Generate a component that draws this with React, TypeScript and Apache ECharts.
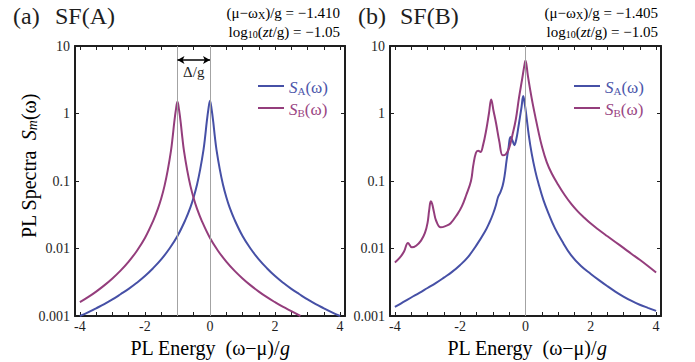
import React, { useEffect, useRef } from 'react';
import * as echarts from 'echarts';

const BLUE = '#4650a6';
const MAGENTA = '#943d7c';
const BLUE_T = '#4c56aa';
const MAGENTA_T = '#9a4683';
const INK = '#1e1e1e';
const FONT = 'Liberation Serif';

// axis ticks / labels
const xTicks = [-4, -3.5, -3, -2.5, -2, -1.5, -1, -0.5, 0, 0.5, 1, 1.5, 2, 2.5, 3, 3.5, 4];
const xLabels = [-4, -2, 0, 2, 4];

// Panel (a) SF(A)
const aSAx = [-4, -3.75, -3.5, -3.25, -3, -2.75, -2.5, -2.25, -2, -1.75, -1.5, -1.25, -1, -0.75, -0.6, -0.5, -0.4, -0.3, -0.2, -0.15, -0.1, -0.05, 0,
  0.05, 0.1, 0.15, 0.2, 0.3, 0.4, 0.5, 0.6, 0.75, 1, 1.25, 1.5, 1.75, 2, 2.25, 2.5, 2.75, 3, 3.25, 3.5, 3.75, 4];
const aSAy = [0.001, 0.00113, 0.0013, 0.0015, 0.00176, 0.0021, 0.00252, 0.0031, 0.0039, 0.0051, 0.0069, 0.0099, 0.0153, 0.027, 0.041, 0.058, 0.088, 0.15, 0.29, 0.45, 0.75, 1.15, 1.55,
  1.15, 0.75, 0.45, 0.29, 0.15, 0.088, 0.058, 0.041, 0.027, 0.0153, 0.0099, 0.0069, 0.0051, 0.0039, 0.0031, 0.00252, 0.0021, 0.00176, 0.0015, 0.0013, 0.00113, 0.001];
const aSBx = [-4, -3.75, -3.5, -3.25, -3, -2.75, -2.5, -2.25, -2, -1.75, -1.6, -1.5, -1.4, -1.3, -1.2, -1.15, -1.1, -1.05, -1,
  -0.95, -0.9, -0.85, -0.8, -0.7, -0.6, -0.5, -0.4, -0.25, 0, 0.25, 0.5, 0.75, 1, 1.25, 1.5, 1.75, 2, 2.25, 2.5, 2.78];
const aSBy = [0.0016, 0.0019, 0.0023, 0.00284, 0.0036, 0.0047, 0.0064, 0.0092, 0.0143, 0.0255, 0.039, 0.055, 0.084, 0.144, 0.28, 0.44, 0.73, 1.12, 1.5,
  1.12, 0.73, 0.44, 0.28, 0.144, 0.084, 0.055, 0.039, 0.0255, 0.0143, 0.0092, 0.0064, 0.0047, 0.0036, 0.00284, 0.0023, 0.0019, 0.0016, 0.00136, 0.00118, 0.001];
const aMarkers = [-1, 0];
const aArrow = { from: -1, to: 0, level: 6.2, text: 'Δ/g' };

// Panel (b) SF(B)
const bSAx = [-4, -3.75, -3.5, -3.25, -3, -2.75, -2.5, -2.25, -2, -1.75, -1.5, -1.25, -1.1, -0.99, -0.9, -0.84, -0.77, -0.7, -0.64, -0.58,
  -0.52, -0.46, -0.4, -0.34, -0.28, -0.22, -0.12, -0.07, -0.02, 0.03, 0.1, 0.19, 0.3, 0.4, 0.55, 0.71, 0.9, 1.11, 1.4, 1.7,
  2.0, 2.25, 2.5, 2.75, 3.0, 3.25, 3.5, 3.75, 4];
const bSAy = [0.00136, 0.0016, 0.00188, 0.0022, 0.0026, 0.00307, 0.0037, 0.0045, 0.0057, 0.0076, 0.0112, 0.0175, 0.0245, 0.033, 0.045, 0.058, 0.068, 0.085, 0.12, 0.2,
  0.31, 0.45, 0.4, 0.34, 0.42, 0.62, 1.26, 1.81, 1.35, 0.9, 0.48, 0.254, 0.14, 0.091, 0.052, 0.0326, 0.02, 0.0131, 0.0079, 0.0055,
  0.0042, 0.0034, 0.00278, 0.0023, 0.00194, 0.00167, 0.00147, 0.00132, 0.00119];
const bSBx = [-4, -3.85, -3.72, -3.6, -3.48, -3.35, -3.2, -3.08, -3.0, -2.95, -2.9, -2.86, -2.8, -2.74, -2.6, -2.45, -2.3, -2.08, -1.95, -1.82,
  -1.67, -1.6, -1.52, -1.45, -1.38, -1.3, -1.2, -1.12, -1.05, -0.98, -0.9, -0.8, -0.7, -0.6, -0.5, -0.4, -0.3, -0.2, -0.1, -0.03,
  0, 0.07, 0.14, 0.22, 0.3, 0.4, 0.5, 0.65, 0.8, 1.0, 1.2, 1.4, 1.6, 1.8, 2.0, 2.25, 2.5, 2.75, 3.0, 3.25, 3.5, 3.75, 4];
const bSBy = [0.0062, 0.0073, 0.009, 0.0121, 0.0104, 0.011, 0.0131, 0.017, 0.024, 0.037, 0.05, 0.046, 0.034, 0.026, 0.0206, 0.0215, 0.0235, 0.0326, 0.042, 0.061,
  0.1, 0.17, 0.26, 0.28, 0.27, 0.34, 0.58, 1.0, 1.61, 1.1, 0.71, 0.38, 0.24, 0.25, 0.31, 0.48, 0.8, 1.7, 3.3, 5.3,
  6.1, 3.7, 2.3, 1.4, 0.9, 0.53, 0.33, 0.19, 0.13, 0.088, 0.062, 0.0458, 0.0355, 0.0286, 0.0234, 0.0188, 0.0153, 0.0125, 0.0102, 0.0083, 0.0068, 0.0055, 0.0044];
const bMarkers = [0];

const annA = ['(μ−ω', 'X', ')/g = −1.410'];
const annB = ['(μ−ω', 'X', ')/g = −1.405'];
const logLine = '−1.05';

const zip = (xs: number[], ys: number[]) => xs.map((x, i) => [x, ys[i]]);

const frameLine = { show: true, onZero: false, lineStyle: { color: INK, width: 2 } };
const tickStyle = { show: true, inside: true, length: 4, lineStyle: { color: INK, width: 1 } };

function xAx(gridIndex: number, position: string, showLabel: boolean) {
  return {
    type: 'value', gridIndex, position, min: -4.15, max: 4.15,
    axisLine: frameLine,
    axisTick: { ...tickStyle, customValues: xTicks },
    axisLabel: {
      show: showLabel, customValues: xLabels, margin: 3,
      fontSize: 14, fontFamily: FONT, color: INK,
      formatter: (v: number) => String(v),
    },
    splitLine: { show: false },
  };
}
function yAx(gridIndex: number, position: string, showLabel: boolean) {
  return {
    type: 'log', logBase: 10, gridIndex, position, min: 0.001, max: 10, splitNumber: 4,
    axisLine: frameLine,
    axisTick: { ...tickStyle },
    minorTick: { show: false },
    axisLabel: {
      show: showLabel, margin: 5, fontSize: 14, fontFamily: FONT, color: INK,
      formatter: (v: number) => String(+Number(v).toPrecision(2)),
    },
    splitLine: { show: false },
  };
}

function lineSeries(name: string, data: number[][], color: string, xi: number, yi: number, extra: any = {}) {
  return {
    type: 'line', name, data, xAxisIndex: xi, yAxisIndex: yi,
    symbol: 'none', showSymbol: false, smooth: 0.4, clip: true,
    lineStyle: { color, width: 2 }, itemStyle: { color },
    z: 3, ...extra,
  };
}

function vLines(values: number[]) {
  return {
    silent: true, symbol: 'none', label: { show: false },
    lineStyle: { color: '#a3a3a3', width: 1, type: 'solid' },
    data: values.map((v) => ({ xAxis: v })),
  };
}

const legendRich = {
  a: { color: BLUE_T, fontSize: 17, fontFamily: FONT, fontStyle: 'italic', lineHeight: 20, verticalAlign: 'bottom' },
  as: { color: BLUE_T, fontSize: 11, fontFamily: FONT, lineHeight: 10, verticalAlign: 'bottom' },
  ap: { color: BLUE_T, fontSize: 17, fontFamily: FONT, lineHeight: 20, verticalAlign: 'bottom' },
  b: { color: MAGENTA_T, fontSize: 17, fontFamily: FONT, fontStyle: 'italic', lineHeight: 20, verticalAlign: 'bottom' },
  bs: { color: MAGENTA_T, fontSize: 11, fontFamily: FONT, lineHeight: 10, verticalAlign: 'bottom' },
  bp: { color: MAGENTA_T, fontSize: 17, fontFamily: FONT, lineHeight: 20, verticalAlign: 'bottom' },
};
const legendFmt = (name: string) => (name === 'SA' ? '{a|S}{as|A}{ap|(ω)}' : '{b|S}{bs|B}{bp|(ω)}');
function legendAt(left: number) {
  return {
    left, top: 73, orient: 'vertical', itemWidth: 26, itemHeight: 20, itemGap: 4, itemStyle: { opacity: 0 },
    selectedMode: false, data: ['SA', 'SB'], formatter: legendFmt,
    textStyle: { fontFamily: FONT, rich: legendRich },
  };
}

const txt = { fontFamily: FONT, fill: INK };
function annotation(right: number, parts: string[]) {
  return [
    {
      type: 'text', x: right, y: 11,
      style: {
        text: `{n|${parts[0]}}{s|${parts[1]}}{n|${parts[2]}}`, align: 'right', verticalAlign: 'middle',
        fontFamily: FONT,
        rich: {
          n: { fontSize: 15, fontFamily: FONT, color: INK, lineHeight: 18, verticalAlign: 'bottom' },
          s: { fontSize: 10, fontFamily: FONT, color: INK, lineHeight: 9, verticalAlign: 'bottom' },
        },
      },
    },
    {
      type: 'text', x: right, y: 30,
      style: {
        text: `{n|log}{s|10}{n|(}{i|zt}{n|/g) = ${logLine}}`, align: 'right', verticalAlign: 'middle',
        fontFamily: FONT,
        rich: {
          n: { fontSize: 15, fontFamily: FONT, color: INK, lineHeight: 18, verticalAlign: 'bottom' },
          i: { fontSize: 15, fontFamily: FONT, fontStyle: 'italic', color: INK, lineHeight: 18, verticalAlign: 'bottom' },
          s: { fontSize: 10, fontFamily: FONT, color: INK, lineHeight: 9, verticalAlign: 'bottom' },
        },
      },
    },
  ];
}
function xTitle(cx: number) {
  return {
    type: 'text', x: cx, y: 348,
    style: {
      text: '{n|PL Energy  (ω−μ)/}{i|g}', align: 'center', verticalAlign: 'middle', fontFamily: FONT,
      rich: {
        n: { fontSize: 20, fontFamily: FONT, color: INK },
        i: { fontSize: 20, fontFamily: FONT, fontStyle: 'italic', color: INK },
      },
    },
  };
}

export default function App() {
  const ref = useRef<HTMLDivElement>(null);
  useEffect(() => {
    if (!ref.current) return;
    const chart = echarts.init(ref.current, null, { renderer: 'svg' });
    const option: any = {
      animation: false,
      backgroundColor: '#ffffff',
      textStyle: { fontFamily: FONT },
      grid: [
        { left: 75, top: 46, width: 270, height: 270, outerBoundsMode: 'none' },
        { left: 390, top: 46, width: 271, height: 270, outerBoundsMode: 'none' },
      ],
      xAxis: [xAx(0, 'bottom', true), xAx(0, 'top', false), xAx(1, 'bottom', true), xAx(1, 'top', false)],
      yAxis: [yAx(0, 'left', true), yAx(0, 'right', false), yAx(1, 'left', true), yAx(1, 'right', false)],
      legend: [legendAt(252), legendAt(568)],
      series: [
        lineSeries('SA', zip(aSAx, aSAy), BLUE, 0, 0, { markLine: vLines(aMarkers) }),
        lineSeries('SB', zip(aSBx, aSBy), MAGENTA, 0, 0, {
          markLine: {
            silent: true, symbol: ['arrow', 'arrow'], symbolSize: [6, 7],
            lineStyle: { color: '#000', width: 1.5, type: 'solid' },
            label: {
              show: true, formatter: aArrow.text, position: 'insideMiddleBottom', distance: 4,
              fontSize: 15, fontFamily: FONT, color: INK,
            },
            data: [[{ coord: [aArrow.from, aArrow.level] }, { coord: [aArrow.to, aArrow.level] }]],
          },
        }),
        lineSeries('SA', zip(bSAx, bSAy), BLUE, 2, 2, { markLine: vLines(bMarkers) }),
        lineSeries('SB', zip(bSBx, bSBy), MAGENTA, 2, 2),
      ],
      graphic: [
        { type: 'text', x: 13, y: 16, style: { ...txt, text: '(a)', fontSize: 24, verticalAlign: 'middle' } },
        { type: 'text', x: 55, y: 16, style: { ...txt, text: 'SF(A)', fontSize: 24, verticalAlign: 'middle' } },
        { type: 'text', x: 358, y: 16, style: { ...txt, text: '(b)', fontSize: 24, verticalAlign: 'middle' } },
        { type: 'text', x: 400, y: 16, style: { ...txt, text: 'SF(B)', fontSize: 24, verticalAlign: 'middle' } },
        ...annotation(340, annA),
        ...annotation(658, annB),
        {
          type: 'text', x: 27, y: 166, rotation: Math.PI / 2,
          style: {
            text: '{n|PL Spectra  }{i|S}{s|m}{n|(ω)}', align: 'center', verticalAlign: 'middle', fontFamily: FONT,
            rich: {
              n: { fontSize: 20, fontFamily: FONT, color: INK, lineHeight: 24, verticalAlign: 'bottom' },
              i: { fontSize: 20, fontFamily: FONT, fontStyle: 'italic', color: INK, lineHeight: 24, verticalAlign: 'bottom' },
              s: { fontSize: 14, fontFamily: FONT, fontStyle: 'italic', color: INK, lineHeight: 14, verticalAlign: 'bottom' },
            },
          },
        },
        xTitle(210),
        xTitle(527),
      ],
    };
    chart.setOption(option);
    return () => chart.dispose();
  }, []);
  return <div ref={ref} style={{ position: 'absolute', left: 0, top: 0, width: 695, height: 362 }} />;
}
